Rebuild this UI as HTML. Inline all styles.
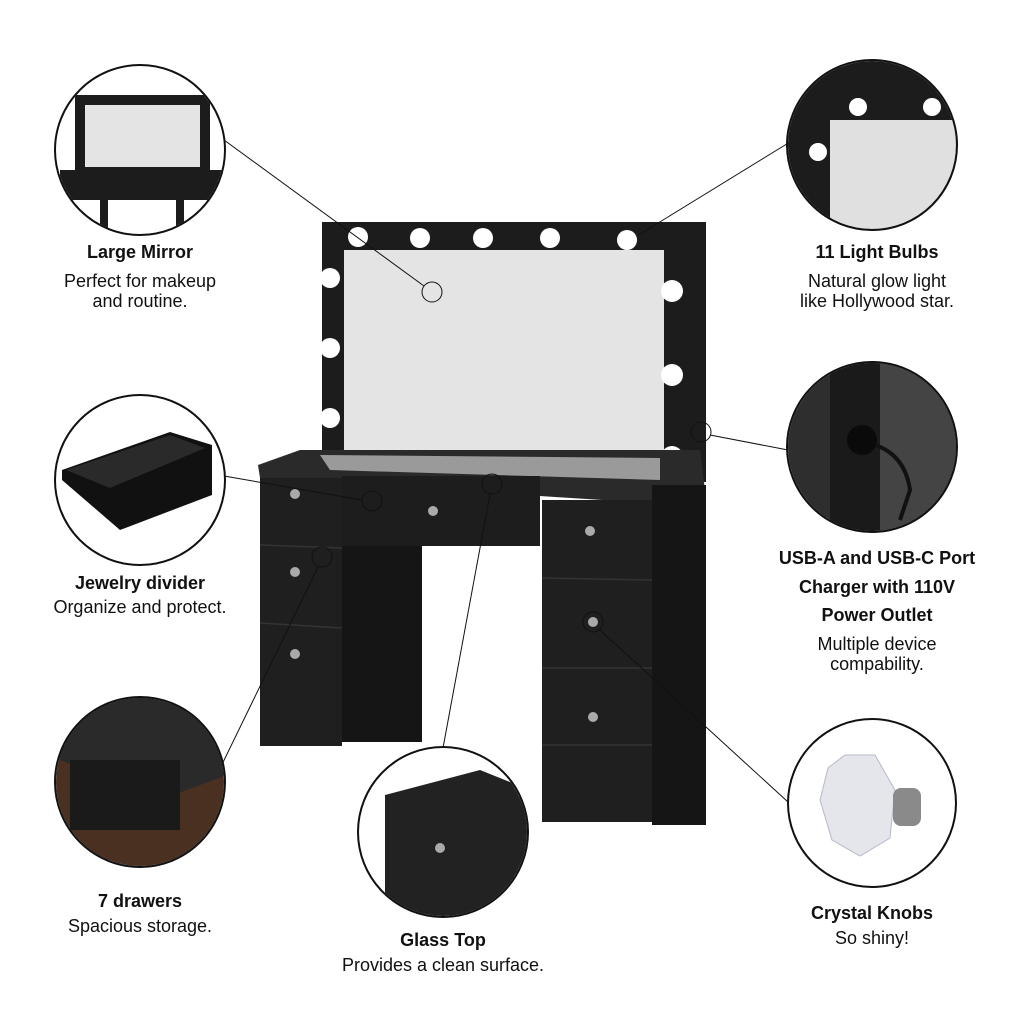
<!DOCTYPE html>
<html><head><meta charset="utf-8"><style>
html,body{margin:0;padding:0;background:#fff}
svg{display:block}
text{font-family:"Liberation Sans",Arial,sans-serif;fill:#111;text-anchor:middle}
.b{font-weight:bold;font-size:18px}
.n{font-size:18px}
</style></head><body>
<svg width="1024" height="1024" viewBox="0 0 1024 1024" xmlns="http://www.w3.org/2000/svg">
<defs>
<clipPath id="c1"><circle cx="140" cy="150" r="84"/></clipPath>
<clipPath id="c2"><circle cx="872" cy="145" r="84"/></clipPath>
<clipPath id="c3"><circle cx="140" cy="480" r="84"/></clipPath>
<clipPath id="c4"><circle cx="872" cy="447" r="84"/></clipPath>
<clipPath id="c5"><circle cx="140" cy="782" r="84"/></clipPath>
<clipPath id="c6"><circle cx="443" cy="832" r="84"/></clipPath>
<clipPath id="c7"><circle cx="872" cy="803" r="84"/></clipPath>
</defs>

<rect x="322" y="222" width="384" height="260" fill="#1c1c1c"/>
<rect x="344" y="250" width="320" height="212" fill="#e4e4e4"/>
<g fill="#fff">
<circle cx="358" cy="237" r="10"/><circle cx="420" cy="238" r="10"/><circle cx="483" cy="238" r="10"/><circle cx="550" cy="238" r="10"/><circle cx="627" cy="240" r="10"/>
<circle cx="330" cy="278" r="10"/><circle cx="330" cy="348" r="10"/><circle cx="330" cy="418" r="10"/>
<circle cx="672" cy="291" r="11"/><circle cx="672" cy="375" r="11"/><circle cx="672" cy="457" r="11"/>
</g>
<polygon points="258,465 300,450 700,450 705,490 680,505 260,478" fill="#2a2a2a"/>
<polygon points="320,455 660,458 660,480 330,470" fill="#9a9a9a"/>
<rect x="260" y="478" width="82" height="268" fill="#1f1f1f"/>
<rect x="342" y="476" width="198" height="70" fill="#1d1d1d"/>
<rect x="342" y="546" width="80" height="196" fill="#151515"/>
<rect x="542" y="500" width="110" height="322" fill="#1f1f1f"/>
<rect x="652" y="485" width="54" height="340" fill="#151515"/>
<g stroke="#333" stroke-width="1.5">
<line x1="260" y1="545" x2="342" y2="548"/><line x1="260" y1="623" x2="342" y2="628"/>
<line x1="542" y1="578" x2="652" y2="580"/><line x1="542" y1="668" x2="652" y2="668"/><line x1="542" y1="745" x2="652" y2="745"/>
</g>
<g fill="#aaa">
<circle cx="295" cy="494" r="5"/><circle cx="295" cy="572" r="5"/><circle cx="295" cy="654" r="5"/>
<circle cx="433" cy="511" r="5"/><circle cx="590" cy="531" r="5"/><circle cx="593" cy="622" r="5"/><circle cx="593" cy="717" r="5"/>
</g>

<g stroke="#111" stroke-width="1" fill="none">
<line x1="224" y1="140" x2="424" y2="286"/><circle cx="432" cy="292" r="10"/>
<line x1="637" y1="236" x2="790" y2="142"/>
<line x1="224" y1="476" x2="362" y2="500"/><circle cx="372" cy="501" r="10"/>
<line x1="212" y1="785" x2="318" y2="567"/><circle cx="322" cy="557" r="10"/>
<line x1="443" y1="748" x2="490" y2="494"/><circle cx="492" cy="484" r="10"/>
<line x1="710" y1="435" x2="788" y2="450"/><circle cx="701" cy="432" r="10"/>
<line x1="600" y1="630" x2="788" y2="802"/><circle cx="593" cy="622" r="10"/>
</g>

<g clip-path="url(#c1)">
<rect x="75" y="95" width="135" height="80" fill="#1c1c1c"/><rect x="85" y="105" width="115" height="62" fill="#e4e4e4"/>
<rect x="60" y="170" width="170" height="30" fill="#1c1c1c"/><rect x="108" y="200" width="68" height="40" fill="#fff"/>
<rect x="100" y="200" width="8" height="40" fill="#1c1c1c"/><rect x="176" y="200" width="8" height="40" fill="#1c1c1c"/>
</g>
<g clip-path="url(#c2)">
<rect x="780" y="55" width="190" height="180" fill="#1c1c1c"/><rect x="830" y="120" width="140" height="120" fill="#e0e0e0"/>
<circle cx="858" cy="107" r="9" fill="#fff"/><circle cx="932" cy="107" r="9" fill="#fff"/><circle cx="818" cy="152" r="9" fill="#fff"/>
</g>
<g clip-path="url(#c3)">
<rect x="50" y="390" width="190" height="180" fill="#fff"/>
<polygon points="62,470 170,432 212,445 212,495 120,530 62,480" fill="#111"/>
<polygon points="66,470 170,435 205,448 110,488" fill="#2a2a2a"/>
</g>
<g clip-path="url(#c4)">
<rect x="780" y="360" width="190" height="180" fill="#2e2e2e"/><rect x="830" y="360" width="50" height="180" fill="#1a1a1a"/>
<rect x="880" y="360" width="90" height="180" fill="#444"/>
<circle cx="862" cy="440" r="15" fill="#0a0a0a"/>
<path d="M875,445 Q905,455 910,490 L900,520" stroke="#111" stroke-width="4" fill="none"/>
</g>
<g clip-path="url(#c5)">
<rect x="50" y="695" width="190" height="180" fill="#4a3020"/>
<polygon points="50,695 240,695 240,770 160,800 60,760" fill="#2a2a2a"/>
<rect x="70" y="760" width="110" height="70" fill="#1a1a1a"/>
</g>
<g clip-path="url(#c6)">
<rect x="350" y="740" width="190" height="180" fill="#fff"/>
<polygon points="385,795 480,770 530,790 530,930 385,930" fill="#222"/>
<circle cx="440" cy="848" r="5" fill="#aaa"/>
</g>
<g clip-path="url(#c7)">
<rect x="780" y="715" width="190" height="180" fill="#fff"/>
<polygon points="845,755 875,755 895,790 890,838 860,856 832,840 820,800 828,768" fill="#e4e6ec" stroke="#b8b8c8" stroke-width="1"/>
<rect x="893" y="788" width="28" height="38" rx="8" fill="#8a8a8a"/>
</g>

<g stroke="#111" stroke-width="2" fill="none">
<circle cx="140" cy="150" r="85"/><circle cx="872" cy="145" r="85"/><circle cx="140" cy="480" r="85"/>
<circle cx="872" cy="447" r="85"/><circle cx="140" cy="782" r="85"/><circle cx="443" cy="832" r="85"/><circle cx="872" cy="803" r="84"/>
</g>

<text class="b" x="140" y="258">Large Mirror</text>
<text class="n" x="140" y="287">Perfect for makeup</text>
<text class="n" x="140" y="307">and routine.</text>
<text class="b" x="877" y="258">11 Light Bulbs</text>
<text class="n" x="877" y="287">Natural glow light</text>
<text class="n" x="877" y="307">like Hollywood star.</text>
<text class="b" x="140" y="589">Jewelry divider</text>
<text class="n" x="140" y="613">Organize and protect.</text>
<text class="b" x="877" y="564">USB-A and USB-C Port</text>
<text class="b" x="877" y="593">Charger with 110V</text>
<text class="b" x="877" y="621">Power Outlet</text>
<text class="n" x="877" y="650">Multiple device</text>
<text class="n" x="877" y="670">compability.</text>
<text class="b" x="140" y="907">7 drawers</text>
<text class="n" x="140" y="932">Spacious storage.</text>
<text class="b" x="443" y="946">Glass Top</text>
<text class="n" x="443" y="971">Provides a clean surface.</text>
<text class="b" x="872" y="919">Crystal Knobs</text>
<text class="n" x="872" y="944">So shiny!</text>
</svg>
</body></html>
